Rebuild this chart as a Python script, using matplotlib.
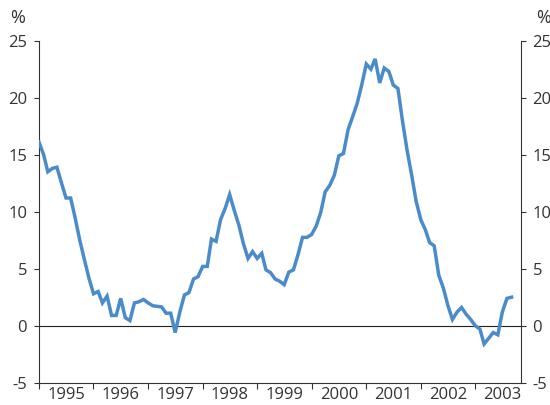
import numpy as np
import pandas as pd
import matplotlib
matplotlib.use("Agg")
import matplotlib.pyplot as plt
import matplotlib.dates as mdates

# monthly annual growth rate, Jan 1995 - Sep 2003 (%)
values = [
    16.1, 15.0, 13.5, 13.8, 13.9, 12.5, 11.2, 11.2, 9.4, 7.5, 5.8, 4.2,      # 1995
    2.8, 3.0, 2.0, 2.6, 0.9, 0.9, 2.4, 0.7, 0.45, 2.0, 2.1, 2.3,           # 1996
    2.0, 1.75, 1.7, 1.65, 1.1, 1.1, -0.6, 1.2, 2.7, 2.9, 4.1, 4.3,         # 1997
    5.2, 5.2, 7.6, 7.4, 9.3, 10.3, 11.5, 10.1, 8.8, 7.2, 5.9, 6.5,         # 1998
    5.9, 6.35, 4.9, 4.65, 4.1, 3.9, 3.6, 4.7, 4.9, 6.2, 7.75, 7.75,        # 1999
    8.0, 8.75, 9.9, 11.75, 12.3, 13.2, 14.9, 15.1, 17.2, 18.3, 19.5, 21.1,  # 2000
    22.95, 22.5, 23.4, 21.3, 22.6, 22.3, 21.1, 20.8, 17.9, 15.4, 13.2, 10.9,  # 2001
    9.3, 8.4, 7.3, 7.0, 4.45, 3.3, 1.8, 0.55, 1.2, 1.6, 1.0, 0.55,         # 2002
    0.0, -0.3, -1.6, -1.1, -0.6, -0.8, 1.2, 2.4, 2.5,                     # 2003
]
dates = pd.date_range("1995-01-01", periods=len(values), freq="MS")
years = list(range(1995, 2004))
y_ticks = [-5, 0, 5, 10, 15, 20, 25]

TEXT = "#333333"
LINE = "#4a8bca"

plt.rcParams["font.family"] = ["Open Sans", "DejaVu Sans"]
plt.rcParams["font.size"] = 12

fig = plt.figure(figsize=(5.5, 4.05), dpi=100)
ax = fig.add_axes([0.0709, 0.055, 0.8758, 0.8446])

ax.plot(dates, values, color=LINE, linewidth=2.5, solid_joinstyle="miter", zorder=3)
ax.axhline(0, color="#222222", linewidth=0.8, zorder=2)

ax.set_xlim(pd.Timestamp("1995-01-01"), pd.Timestamp("2003-11-01"))
ax.set_ylim(-5, 25)

# year boundaries as ticks, labels centred in each year
ax.set_xticks([pd.Timestamp(f"{y}-01-01") for y in years])
ax.set_xticklabels([])
ax.set_xticks([pd.Timestamp(f"{y}-07-01") for y in years], minor=True)
ax.set_xticklabels([str(y) for y in years], minor=True)
ax.tick_params(axis="x", which="major", direction="out", length=4, width=0.8, color=TEXT)
ax.tick_params(axis="x", which="minor", length=0, pad=3, labelcolor=TEXT)

ax.set_yticks(y_ticks)
ax.set_yticklabels([str(t) for t in y_ticks])
ax.tick_params(axis="y", direction="out", length=3.5, width=0.8, color=TEXT,
               labelcolor=TEXT, pad=5, left=True, right=True,
               labelleft=True, labelright=True)

for side in ("left", "right", "bottom"):
    ax.spines[side].set_color(TEXT)
    ax.spines[side].set_linewidth(0.8)
ax.spines["top"].set_visible(False)

fig.text(0.032, 0.955, "%", color=TEXT, ha="center", va="center", fontsize=13)
fig.text(0.975, 0.955, "%", color=TEXT, ha="left", va="center", fontsize=13)

fig.savefig("out.png", dpi=100)
